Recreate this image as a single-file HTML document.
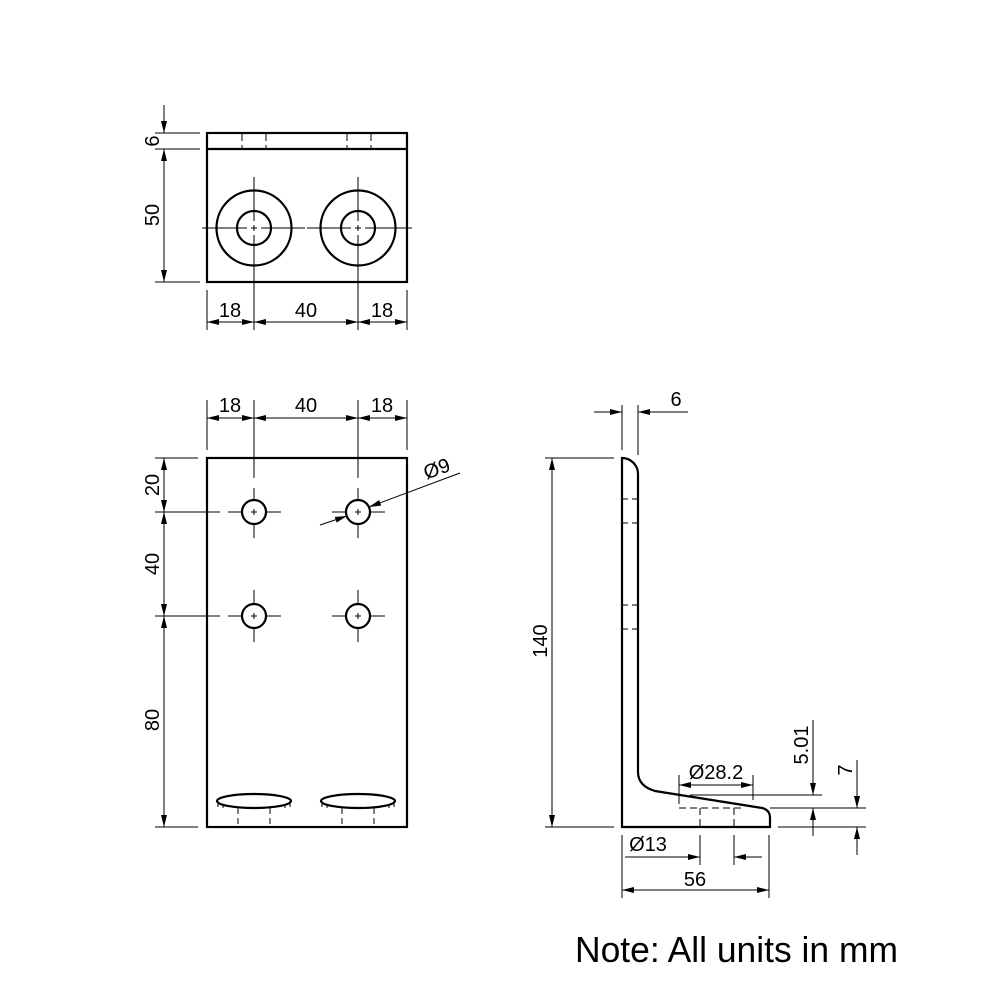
<!DOCTYPE html>
<html><head><meta charset="utf-8"><style>
html,body{margin:0;padding:0;background:#fff}
svg{display:block}
text{font-family:"Liberation Sans",sans-serif;fill:#000}
</style></head><body>
<svg width="1000" height="1000" viewBox="0 0 1000 1000" xmlns="http://www.w3.org/2000/svg">
<defs>
<marker id="a" viewBox="0 0 12 6" refX="12" refY="3" markerWidth="12" markerHeight="6" markerUnits="userSpaceOnUse" orient="auto"><path d="M0,0 L12,3 L0,6 z" fill="#000"/></marker>
</defs>
<g fill="none" stroke="#000">
<!-- TOP VIEW -->
<g stroke-width="2.2">
<rect x="207" y="133" width="200" height="149"/>
<line x1="207" y1="149" x2="407" y2="149"/>
<circle cx="254" cy="228" r="37.5"/><circle cx="254" cy="228" r="17"/>
<circle cx="358" cy="228" r="37.5"/><circle cx="358" cy="228" r="17"/>
</g>
<g stroke-width="1">
<g stroke-dasharray="8,4">
<line x1="242" y1="133" x2="242" y2="149"/><line x1="266" y1="133" x2="266" y2="149"/>
<line x1="347" y1="133" x2="347" y2="149"/><line x1="371" y1="133" x2="371" y2="149"/>
</g>
<path d="M202,228 H247 M251,228 H257 M261,228 H305 M307,228 H351 M355,228 H361 M365,228 H412"/>
<path d="M254,177 V221 M254,225 V231 M254,235 V282 M358,177 V221 M358,225 V231 M358,235 V282"/>
<line x1="155" y1="133" x2="200" y2="133"/><line x1="155" y1="149" x2="200" y2="149"/><line x1="155" y1="282" x2="200" y2="282"/>
<line x1="164" y1="105" x2="164" y2="133" marker-end="url(#a)"/>
<line x1="164" y1="282" x2="164" y2="149" marker-end="url(#a)"/>
<line x1="164" y1="149" x2="164" y2="282" marker-end="url(#a)"/>
<line x1="207" y1="290" x2="207" y2="330"/><line x1="254" y1="282" x2="254" y2="330"/><line x1="358" y1="282" x2="358" y2="330"/><line x1="407" y1="290" x2="407" y2="330"/>
<line x1="230" y1="322" x2="207" y2="322" marker-end="url(#a)"/><line x1="230" y1="322" x2="254" y2="322" marker-end="url(#a)"/>
<line x1="306" y1="322" x2="254" y2="322" marker-end="url(#a)"/><line x1="306" y1="322" x2="358" y2="322" marker-end="url(#a)"/>
<line x1="382" y1="322" x2="358" y2="322" marker-end="url(#a)"/><line x1="382" y1="322" x2="407" y2="322" marker-end="url(#a)"/>
</g>

<!-- FRONT VIEW -->
<g stroke-width="2.2">
<rect x="207" y="458" width="200" height="369"/>
<circle cx="254" cy="512" r="12"/><circle cx="358" cy="512" r="12"/>
<circle cx="254" cy="616" r="12"/><circle cx="358" cy="616" r="12"/>
<ellipse cx="254" cy="801" rx="37" ry="7"/><ellipse cx="358" cy="801" rx="37" ry="7"/>
</g>
<g stroke-width="1">
<g stroke-dasharray="6,4">
<line x1="238" y1="808" x2="238" y2="827"/><line x1="270" y1="808" x2="270" y2="827"/>
<line x1="342" y1="808" x2="342" y2="827"/><line x1="374" y1="808" x2="374" y2="827"/>
<path d="M218,801 v6 h6 M290,801 v6 h-6 M322,801 v6 h6 M394,801 v6 h-6"/>
</g>
<g>
<path d="M228,512 H242 M266,512 H281 M254,488 V500 M254,524 V538 M251,512 H257 M254,509 V515"/>
<path d="M332,512 H346 M370,512 H385 M358,488 V500 M358,524 V538 M355,512 H361 M358,509 V515"/>
<path d="M228,616 H242 M266,616 H281 M254,590 V604 M254,628 V642 M251,616 H257 M254,613 V619"/>
<path d="M332,616 H346 M370,616 H385 M358,590 V604 M358,628 V642 M355,616 H361 M358,613 V619"/>
</g>
<line x1="207" y1="400" x2="207" y2="450"/><line x1="254" y1="400" x2="254" y2="478"/><line x1="358" y1="400" x2="358" y2="478"/><line x1="407" y1="400" x2="407" y2="450"/>
<line x1="230" y1="418" x2="207" y2="418" marker-end="url(#a)"/><line x1="230" y1="418" x2="254" y2="418" marker-end="url(#a)"/>
<line x1="306" y1="418" x2="254" y2="418" marker-end="url(#a)"/><line x1="306" y1="418" x2="358" y2="418" marker-end="url(#a)"/>
<line x1="382" y1="418" x2="358" y2="418" marker-end="url(#a)"/><line x1="382" y1="418" x2="407" y2="418" marker-end="url(#a)"/>
<line x1="155" y1="458" x2="198" y2="458"/><line x1="155" y1="512" x2="220" y2="512"/><line x1="155" y1="616" x2="220" y2="616"/><line x1="155" y1="827" x2="198" y2="827"/>
<line x1="164" y1="485" x2="164" y2="458" marker-end="url(#a)"/><line x1="164" y1="485" x2="164" y2="512" marker-end="url(#a)"/>
<line x1="164" y1="564" x2="164" y2="512" marker-end="url(#a)"/><line x1="164" y1="564" x2="164" y2="616" marker-end="url(#a)"/>
<line x1="164" y1="720" x2="164" y2="616" marker-end="url(#a)"/><line x1="164" y1="720" x2="164" y2="827" marker-end="url(#a)"/>
<line x1="460" y1="473" x2="369" y2="507" marker-end="url(#a)"/>
<line x1="320" y1="525" x2="347" y2="516" marker-end="url(#a)"/>
</g>

<!-- SIDE VIEW -->
<g stroke-width="2.2">
<path d="M622,827 V458 A16,16 0 0 1 638,474 V772 Q638,786 655,791 L762,808 Q770,810 770,818 V827 Z"/>
</g>
<g stroke-width="1">
<line x1="622" y1="499" x2="638" y2="499" stroke-dasharray="6,4"/>
<line x1="622" y1="523" x2="638" y2="523" stroke-dasharray="6,4"/>
<line x1="622" y1="605" x2="638" y2="605" stroke-dasharray="6,4"/>
<line x1="622" y1="629" x2="638" y2="629" stroke-dasharray="6,4"/>
<g stroke-dasharray="7,4">
<path d="M679,797 V808 H743"/>
<line x1="700" y1="808" x2="700" y2="827"/><line x1="734" y1="808" x2="734" y2="827"/>
</g>
<line x1="622" y1="405" x2="622" y2="450"/><line x1="638" y1="405" x2="638" y2="455"/>
<line x1="594" y1="412" x2="622" y2="412" marker-end="url(#a)"/>
<line x1="688" y1="412" x2="638" y2="412" marker-end="url(#a)"/>
<line x1="545" y1="458" x2="614" y2="458"/><line x1="545" y1="827" x2="614" y2="827"/>
<line x1="552" y1="640" x2="552" y2="458" marker-end="url(#a)"/><line x1="552" y1="640" x2="552" y2="827" marker-end="url(#a)"/>
<line x1="679" y1="775" x2="679" y2="797"/><line x1="753" y1="775" x2="753" y2="800"/>
<line x1="716" y1="785" x2="679" y2="785" marker-end="url(#a)"/><line x1="716" y1="785" x2="753" y2="785" marker-end="url(#a)"/>
<line x1="690" y1="795" x2="822" y2="795"/>
<line x1="770" y1="808" x2="866" y2="808"/>
<line x1="778" y1="827" x2="866" y2="827"/>
<line x1="813" y1="720" x2="813" y2="795" marker-end="url(#a)"/>
<line x1="813" y1="836" x2="813" y2="808" marker-end="url(#a)"/>
<line x1="857" y1="760" x2="857" y2="808" marker-end="url(#a)"/>
<line x1="857" y1="855" x2="857" y2="827" marker-end="url(#a)"/>
<line x1="622" y1="835" x2="622" y2="898"/><line x1="769" y1="835" x2="769" y2="898"/>
<line x1="700" y1="835" x2="700" y2="865"/><line x1="734" y1="835" x2="734" y2="865"/>
<line x1="625" y1="857" x2="700" y2="857" marker-end="url(#a)"/>
<line x1="762" y1="857" x2="734" y2="857" marker-end="url(#a)"/>
<line x1="695" y1="890" x2="622" y2="890" marker-end="url(#a)"/><line x1="695" y1="890" x2="769" y2="890" marker-end="url(#a)"/>
</g>
</g>

<g font-size="20" text-anchor="middle">
<text transform="translate(159,141) rotate(-90)">6</text>
<text transform="translate(159,215) rotate(-90)">50</text>
<text x="230" y="317">18</text><text x="306" y="317">40</text><text x="382" y="317">18</text>
<text x="230" y="412">18</text><text x="306" y="412">40</text><text x="382" y="412">18</text>
<text transform="translate(159,485) rotate(-90)">20</text>
<text transform="translate(159,564) rotate(-90)">40</text>
<text transform="translate(159,720) rotate(-90)">80</text>
<text transform="translate(439,475) rotate(-20)">Ø9</text>
<text x="676" y="406">6</text>
<text transform="translate(547,641) rotate(-90)">140</text>
<text x="716" y="779">Ø28.2</text>
<text transform="translate(808,745) rotate(-90)">5.01</text>
<text transform="translate(852,770) rotate(-90)">7</text>
<text x="648" y="851">Ø13</text>
<text x="695" y="886">56</text>
</g>
<text x="575" y="962" font-size="36" textLength="323" lengthAdjust="spacingAndGlyphs">Note: All units in mm</text>
</svg>
</body></html>
